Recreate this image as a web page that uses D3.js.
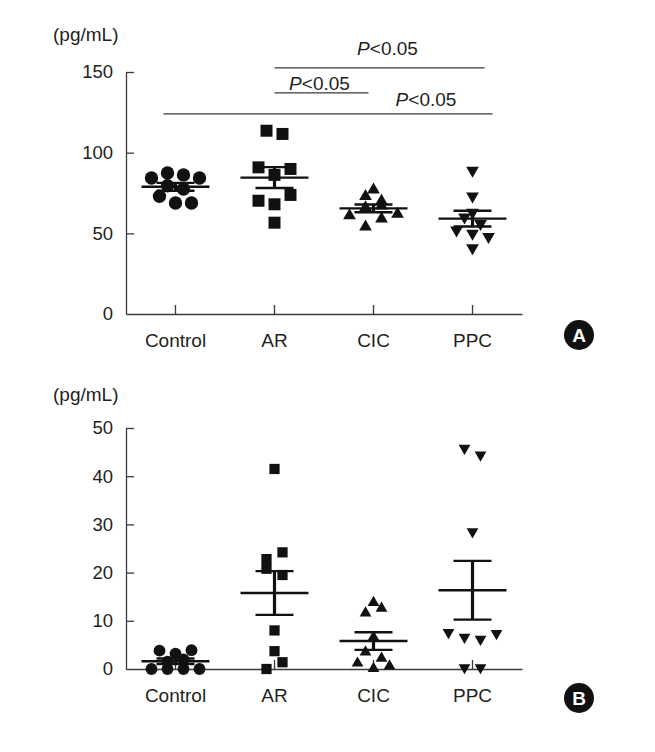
<!DOCTYPE html>
<html lang="en">
<head>
    <meta charset="UTF-8">
    <title>IL levels by group</title>
    <script src="https://cdn.jsdelivr.net/npm/d3@7"></script>
</head>
<style>
    body { margin: 0; background: #fff; }
    text { font-family: "Liberation Sans", Arial, sans-serif; fill: #231f20; }
</style>
<body>
<script>
    // groups on the x axis
    const groups = ["Control", "AR", "CIC", "PPC"];

    // panel A (pg/mL)
    const controlA = [84.3, 87.4, 86.2, 84.3, 79.5, 77.5, 73, 68.8, 68.8];
    const arA      = [113.6, 111.6, 90.9, 86.2, 89.9, 70.2, 68, 73.8, 56.6];
    const cicA     = [61, 73, 77, 70, 66, 67, 62, 54, 59];
    const ppcA     = [89, 73, 63, 60, 56, 52, 50, 48, 41];
    const ticksA   = [0, 50, 100, 150];

    // panel B (pg/mL)
    const controlB = [3.8, 3.2, 3.9, 1.5, 2.0, 0, 0, 0, 0];
    const arB      = [41.5, 22.8, 24.2, 20.8, 19.5, 8, 3.7, 0, 1.4];
    const cicB     = [13.8, 11.6, 12.6, 6.6, 3.5, 2.2, 1.2, 0.1, 0.6];
    const ppcB     = [45.8, 44.4, 28.5, 7.6, 6.6, 6.2, 7.4, 0.3, 0.3];
    const ticksB   = [0, 10, 20, 30, 40, 50];

    // significance marks on panel A
    const compareFrom  = ["AR", "AR", "Control"];
    const compareTo    = ["PPC", "CIC", "PPC"];
    const compareLevel = [152.5, 137, 124];

    const svg = d3.select("body")
            .append("svg")
            .attr("width", 655)
            .attr("height", 752);

    const x = d3.scaleBand().domain(groups).range([126, 522]);

    const symbols = [
        {type: d3.symbolCircle, rot: 0},
        {type: d3.symbolSquare, rot: 0},
        {type: d3.symbolTriangle, rot: 0},
        {type: d3.symbolTriangle, rot: 180}
    ];

    // rows of points that sit close in y are spread side by side, Prism style
    function swarm(values, y, thr, step) {
        const idx = values.map((v, i) => i)
                .sort((a, b) => values[a] - values[b] || a - b);
        const rows = [];
        let cur = null;
        idx.forEach(i => {
            const py = y(values[i]);
            if (cur && cur.y0 - py < thr && cur.items.length < 4) cur.items.push(i);
            else { cur = {y0: py, items: [i]}; rows.push(cur); }
        });
        const off = [];
        rows.forEach(r => {
            r.items.sort((a, b) => a - b);
            const n = r.items.length;
            r.items.forEach((i, k) => off[i] = (k - (n - 1) / 2) * step);
        });
        return off;
    }

    function panel(p) {
        const y = d3.scaleLinear().domain([0, p.max]).range([p.bottom, p.top]);
        const g = svg.append("g");

        g.append("text")
                .attr("x", 53).attr("y", p.unitY)
                .attr("font-size", 19)
                .text("(pg/mL)");

        const yAxis = g.append("g")
                .attr("transform", "translate(126,0)")
                .call(d3.axisLeft(y).tickValues(p.ticks).tickSizeInner(-8).tickSizeOuter(0).tickPadding(13));
        yAxis.selectAll("text").attr("font-size", 18.5).attr("font-family", null);

        const xAxis = g.append("g")
                .attr("transform", `translate(0,${p.bottom})`)
                .call(d3.axisBottom(x).tickSizeInner(-9).tickSizeOuter(0).tickPadding(20));
        xAxis.selectAll("text").attr("font-size", 19).attr("font-family", null);

        g.selectAll(".domain, .tick line").attr("stroke", "#3a3a3a").attr("stroke-width", 1.3);
        yAxis.selectAll(".tick").filter(d => d === 0).select("line").remove();

        p.series.forEach((vals, gi) => {
            const cx = x(groups[gi]) + x.bandwidth() / 2;
            const off = swarm(vals, y, p.thr, 16);
            const sym = d3.symbol().type(symbols[gi].type).size(p.sizes[gi]);

            g.append("g").selectAll("path")
                    .data(vals)
                    .join("path")
                    .attr("d", sym)
                    .attr("fill", "#111")
                    .attr("transform", (d, i) =>
                            `translate(${cx + off[i]},${y(d)}) rotate(${symbols[gi].rot})`);

            const m = d3.mean(vals);
            const se = d3.deviation(vals) / Math.sqrt(vals.length);
            const eb = g.append("g").attr("stroke", "#111");
            eb.append("line")
                    .attr("x1", cx - 34).attr("x2", cx + 34)
                    .attr("y1", y(m)).attr("y2", y(m))
                    .attr("stroke-width", 2.4);
            eb.append("line")
                    .attr("x1", cx).attr("x2", cx)
                    .attr("y1", y(m - se)).attr("y2", y(m + se))
                    .attr("stroke-width", 3.2);
            [m - se, m + se].forEach(v => {
                eb.append("line")
                        .attr("x1", cx - 19).attr("x2", cx + 19)
                        .attr("y1", y(v)).attr("y2", y(v))
                        .attr("stroke-width", 2.4);
            });
        });

        const badge = g.append("g").attr("transform", `translate(579,${p.badgeY})`);
        badge.append("circle").attr("r", 15).attr("fill", "#111");
        badge.append("text")
                .attr("text-anchor", "middle")
                .attr("y", 7)
                .attr("font-size", 19)
                .attr("font-weight", "bold")
                .style("fill", "#fff")
                .text(p.letter);

        return {g, y};
    }

    const a = panel({
        series: [controlA, arA, cicA, ppcA], ticks: ticksA, max: 150,
        top: 72, bottom: 314, unitY: 41, thr: 10,
        sizes: [140, 144, 70, 70], badgeY: 335, letter: "A"
    });
    panel({
        series: [controlB, arB, cicB, ppcB], ticks: ticksB, max: 50,
        top: 428, bottom: 669, unitY: 401, thr: 7,
        sizes: [110, 105, 60, 60], badgeY: 698, letter: "B"
    });

    // significance lines on panel A
    const padL = [0, 0, -12];
    const padR = [12, -5, 20];
    const textDx = [8, -2, 98];
    const textDy = [-13, -3, -8];
    compareFrom.forEach((f, i) => {
        const x1 = x(f) + x.bandwidth() / 2 + padL[i];
        const x2 = x(compareTo[i]) + x.bandwidth() / 2 + padR[i];
        const ly = a.y(compareLevel[i]);
        a.g.append("line")
                .attr("x1", x1).attr("x2", x2)
                .attr("y1", ly).attr("y2", ly)
                .attr("stroke", "#3a3a3a").attr("stroke-width", 1.3);
        const t = a.g.append("text")
                .attr("x", (x1 + x2) / 2 + textDx[i])
                .attr("y", ly + textDy[i])
                .attr("text-anchor", "middle")
                .attr("font-size", 19);
        t.append("tspan").attr("font-style", "italic").text("P");
        t.append("tspan").text("<0.05");
    });
</script>
</body>
</html>
